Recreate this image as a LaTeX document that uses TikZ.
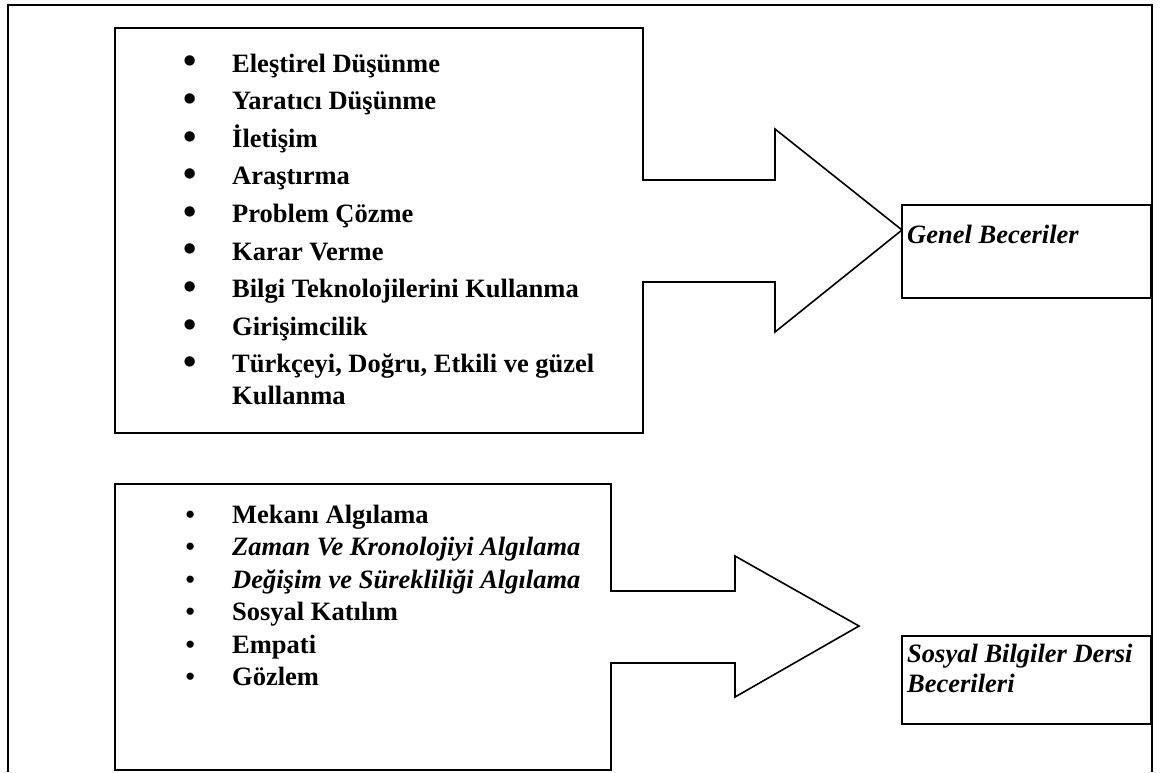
\documentclass[tikz,border=0pt]{standalone}
\usepackage{fontspec}
\setmainfont{Liberation Serif}
\newcommand{\bigdot}{\llap{\raisebox{-1.8pt}{\fontsize{38}{38}\selectfont\textbullet}\hspace{35.4pt}}}
\newcommand{\smalldot}{\llap{\textbullet\hspace{37.4pt}}}

\begin{document}
\begin{tikzpicture}[x=1pt,y=-1pt,line join=miter,
  frame/.style={line width=2.6pt},
  outline/.style={line width=1.6pt},
  tagbox/.style={line width=2.6pt},
  item/.style={anchor=base west,inner sep=0pt,font=\fontsize{26.5}{32}\selectfont\bfseries},
  tag/.style={anchor=base west,inner sep=0pt,align=left,font=\fontsize{26.5}{30}\selectfont\bfseries\itshape}]
  \useasboundingbox (0,0) rectangle (1161,772);
  % outer frame, open at the bottom
  \draw[frame] (8,772) |- (1152,5) -- (1152,772);
  % upper box with its arrow
  \draw[outline] (115,28) -- (643,28) -- (643,180) -- (775,180) -- (775,129)
    -- (902,230) -- (775,332) -- (775,282) -- (643,282) -- (643,433)
    -- (115,433) -- cycle;
  \foreach \txt [count=\i] in {Eleştirel Düşünme,Yaratıcı Düşünme,İletişim,
      Araştırma,Problem Çözme,Karar Verme,Bilgi Teknolojilerini Kullanma,Girişimcilik}
    \node[item] (gen\i) at (232,{72+37.6*(\i-1)}) {\bigdot\txt};
  % two lines: base is the last line
  \node[item,align=left] (gen9) at (232,404.8) {\bigdot Türkçeyi, Doğru, Etkili ve güzel\\Kullanma};
  % lower box with its arrow
  \draw[outline] (115,484) -- (611,484) -- (611,591) -- (735,591) -- (735,556)
    -- (859,626) -- (735,697) -- (735,663) -- (611,663) -- (611,770)
    -- (115,770) -- cycle;
  \node[item] (sos1) at (232,523) {\smalldot Mekanı Algılama};
  \node[item] (sos2) at (232,555.5) {\smalldot\itshape Zaman Ve Kronolojiyi Algılama};
  \node[item] (sos3) at (232,588) {\smalldot\itshape Değişim ve Sürekliliği Algılama};
  \node[item] (sos4) at (232,620.5) {\smalldot Sosyal Katılım};
  \node[item] (sos5) at (232,653) {\smalldot Empati};
  \node[item] (sos6) at (232,685.5) {\smalldot Gözlem};
  % result boxes
  \draw[tagbox] (902,205) rectangle (1151,298);
  \node[tag] (genel) at (907,243) {Genel Beceriler};
  \draw[tagbox] (902,636) rectangle (1151,724);
  \node[tag] (sosyal) at (907,692) {Sosyal Bilgiler Dersi\\Becerileri};
\end{tikzpicture}
\end{document}
